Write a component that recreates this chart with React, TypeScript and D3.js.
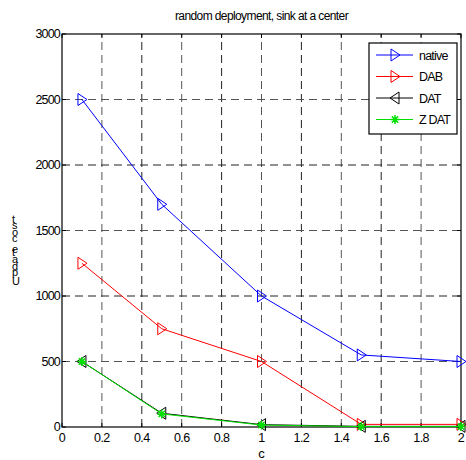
import React from 'react';
import * as d3 from 'd3';

const xValues = [0.1, 0.5, 1, 1.5, 2];
const nativeCost = [2500, 1700, 1000, 550, 500];
const dabCost = [1250, 750, 500, 20, 20];
const datCost = [500, 105, 18, 5, 5];
const zdatCost = [500, 100, 15, 3, 3];

const xTicks = [0, 0.2, 0.4, 0.6, 0.8, 1, 1.2, 1.4, 1.6, 1.8, 2];
const yTicks = [0, 500, 1000, 1500, 2000, 2500, 3000];

const seriesList = [
  { name: 'native', values: nativeCost, color: '#0000ff', marker: 'right' },
  { name: 'DAB', values: dabCost, color: '#ff0000', marker: 'right' },
  { name: 'DAT', values: datCost, color: '#000000', marker: 'left' },
  { name: 'Z DAT', values: zdatCost, color: '#00e000', marker: 'star' },
];

const W = 466;
const H = 460;
const margin = { top: 34, right: 5, bottom: 33, left: 62 };
const FONT = '"Liberation Sans", Arial, sans-serif';

function Marker({ kind, x, y, color }: { kind: string; x: number; y: number; color: string }) {
  if (kind === 'right') {
    return <path d={`M${x - 4},${y - 6}L${x + 5},${y}L${x - 4},${y + 6}Z`} fill="none" stroke={color} strokeWidth={1} />;
  }
  if (kind === 'left') {
    return <path d={`M${x + 4},${y - 6}L${x - 5},${y}L${x + 4},${y + 6}Z`} fill="none" stroke={color} strokeWidth={1} />;
  }
  const r = 4.5;
  const d = [0, 45, 90, 135]
    .map(a => {
      const rad = (a * Math.PI) / 180;
      const dx = Math.cos(rad) * r;
      const dy = Math.sin(rad) * r;
      return `M${x - dx},${y - dy}L${x + dx},${y + dy}`;
    })
    .join('');
  return <path d={d} fill="none" stroke={color} strokeWidth={1.5} />;
}

export default function App() {
  const x = d3.scaleLinear().domain([0, 2]).range([margin.left, W - margin.right]);
  const y = d3.scaleLinear().domain([0, 3000]).range([H - margin.bottom, margin.top]);
  const line = d3
    .line<number>()
    .x((_, i) => x(xValues[i]))
    .y(d => y(d));

  const x0 = x(0), x1 = x(2), y0 = y(0), y1 = y(3000);
  const legendX = 369, legendY = 43, legendW = 88, legendH = 91;

  return (
    <svg width={W} height={H} style={{ position: 'absolute', left: 0, top: 0, background: '#fff' }} fontFamily={FONT}>
      <rect width={W} height={H} fill="#fff" />
      {/* grid */}
      {xTicks.slice(1, -1).map((t, i) => (
        <line key={'gx' + t} x1={x(t)} x2={x(t)} y1={y0} y2={y1} stroke={i % 2 ? '#222' : '#555'} strokeDasharray="8,5" strokeWidth={1} />
      ))}
      {yTicks.slice(1, -1).map((t, i) => (
        <line key={'gy' + t} x1={x0} x2={x1} y1={y(t)} y2={y(t)} stroke={i % 2 ? '#222' : '#555'} strokeDasharray="8,5" strokeWidth={1} />
      ))}
      {/* ticks */}
      {xTicks.map(t => (
        <g key={'tx' + t}>
          <line x1={x(t)} x2={x(t)} y1={y0} y2={y0 - 4} stroke="#000" />
          <line x1={x(t)} x2={x(t)} y1={y1} y2={y1 + 4} stroke="#000" />
          <text x={x(t)} y={y0 + 15} textAnchor="middle" fontSize={12.5} letterSpacing={-0.6}>{t}</text>
        </g>
      ))}
      {yTicks.map(t => (
        <g key={'ty' + t}>
          <line x1={x0} x2={x0 + 4} y1={y(t)} y2={y(t)} stroke="#000" />
          <line x1={x1} x2={x1 - 4} y1={y(t)} y2={y(t)} stroke="#000" />
          <text x={x0 - 2} y={y(t) + 4} textAnchor="end" fontSize={12.5} letterSpacing={-0.8}>{t}</text>
        </g>
      ))}
      <rect x={x0} y={y1} width={x1 - x0} height={y0 - y1} fill="none" stroke="#000" strokeWidth={1.2} />
      {/* series */}
      {seriesList.map(s => (
        <g key={s.name}>
          <path d={line(s.values) || ''} fill="none" stroke={s.color} strokeWidth={1} />
          {s.values.map((v, i) => (
            <Marker key={i} kind={s.marker} x={x(xValues[i])} y={y(v)} color={s.color} />
          ))}
        </g>
      ))}
      {/* legend */}
      <rect x={legendX} y={legendY} width={legendW} height={legendH} fill="#fff" stroke="#000" strokeWidth={1.2} />
      {seriesList.map((s, i) => {
        const ly = legendY + 12 + i * 21.5;
        return (
          <g key={'lg' + s.name}>
            <line x1={legendX + 7} x2={legendX + 44} y1={ly} y2={ly} stroke={s.color} />
            <Marker kind={s.marker} x={legendX + 26} y={ly} color={s.color} />
            <text x={legendX + 50} y={ly + 4.5} fontSize={12.5} letterSpacing={-0.8}>{s.name}</text>
          </g>
        );
      })}
      {/* labels */}
      <text x={(x0 + x1) / 2} y={20} textAnchor="middle" fontSize={12} letterSpacing={-0.6}>
        random deployment, sink at a center
      </text>
      <text x={(x0 + x1) / 2} y={458} textAnchor="middle" fontSize={13}>c</text>
      <text transform="translate(12,285) rotate(-90)" rotate="90" fontSize={11} letterSpacing={0.6}>
        Update cost
      </text>
    </svg>
  );
}
